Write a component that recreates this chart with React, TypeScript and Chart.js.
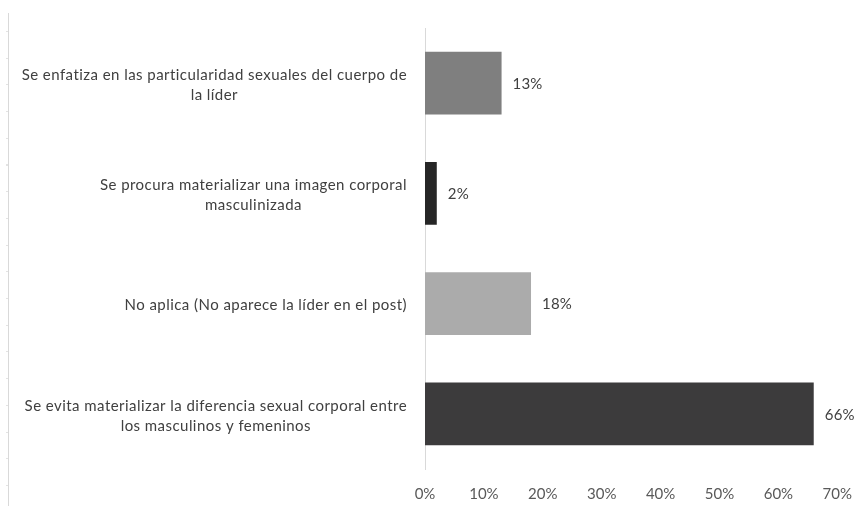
import React, { useEffect, useRef } from "react";
import { Chart, registerables } from "chart.js";

Chart.register(...registerables);

const categories: string[][] = [
  ["Se enfatiza en las particularidad sexuales del cuerpo de", "la líder"],
  ["Se procura materializar una imagen corporal", "masculinizada"],
  ["No aplica (No aparece la líder en el post)"],
  ["Se evita materializar la diferencia sexual corporal entre", "los masculinos y femeninos"],
];
const values: number[] = [13, 2, 18, 66];
const barColors: string[] = ["#7f7f7f", "#262626", "#ababab", "#3c3b3c"];
const xTicks: number[] = [0, 10, 20, 30, 40, 50, 60, 70];

const FONT = "Lato, 'Open Sans', sans-serif";
const TEXT = "#404040";

const valueLabels = {
  id: "valueLabels",
  afterDatasetsDraw(chart: any) {
    const ctx = chart.ctx;
    const meta = chart.getDatasetMeta(0);
    ctx.save();
    ctx.font = `15px ${FONT}`;
    (ctx as any).letterSpacing = "0.2px";
    ctx.fillStyle = TEXT;
    ctx.textAlign = "left";
    ctx.textBaseline = "middle";
    meta.data.forEach((bar: any, i: number) => {
      ctx.fillText(values[i] + "%", bar.x + 11, bar.y + 1);
    });
    ctx.restore();
  },
};

const categoryLabels = {
  id: "categoryLabels",
  afterDraw(chart: any) {
    const ctx = chart.ctx;
    const yScale = chart.scales.y;
    const rightEdge = chart.chartArea.left - 18;
    const lineH = 20;
    ctx.save();
    ctx.font = `15px ${FONT}`;
    (ctx as any).letterSpacing = "0.45px";
    ctx.fillStyle = TEXT;
    ctx.textAlign = "left";
    ctx.textBaseline = "middle";
    categories.forEach((lines, i) => {
      const cy = yScale.getPixelForValue(i);
      const widths = lines.map((l) => ctx.measureText(l).width);
      const maxW = Math.max(...widths);
      const cx = rightEdge - maxW / 2;
      const startY = cy - ((lines.length - 1) * lineH) / 2 + 2;
      lines.forEach((l, j) => ctx.fillText(l, cx - widths[j] / 2, startY + j * lineH));
    });
    ctx.restore();
  },
};

export default function App() {
  const ref = useRef<HTMLCanvasElement | null>(null);
  useEffect(() => {
    if (!ref.current) return;
    const chart = new Chart(ref.current, {
      type: "bar",
      data: {
        labels: categories.map((c) => c.join(" ")),
        datasets: [
          {
            data: values,
            backgroundColor: barColors,
            borderWidth: 0,
            barPercentage: 0.57,
            categoryPercentage: 1,
          },
        ],
      },
      options: {
        indexAxis: "y",
        animation: false,
        responsive: true,
        maintainAspectRatio: false,
        layout: { padding: { left: 425, top: 28, right: 26, bottom: 0 } },
        plugins: { legend: { display: false }, tooltip: { enabled: false } },
        scales: {
          x: {
            min: 0,
            max: 70,
            afterBuildTicks: (s: any) => {
              s.ticks = xTicks.map((v) => ({ value: v }));
            },
            afterFit: (s: any) => {
              s.height = 37;
            },
            grid: { display: false, drawTicks: false },
            border: { display: false },
            ticks: {
              padding: 16,
              color: "#595959",
              font: { family: FONT, size: 15 },
              callback: (v: any) => v + "%",
            },
          },
          y: {
            afterFit: (s: any) => {
              s.width = 0;
            },
            grid: { display: false, drawTicks: false },
            border: { display: true, color: "#d9d9d9", width: 1 },
            ticks: { display: false },
          },
        },
      },
      plugins: [valueLabels, categoryLabels],
    });
    return () => chart.destroy();
  }, []);

  return (
    <div style={{ position: "fixed", left: 0, top: 0, width: 868, height: 506, background: "#fff" }}>
      <div
        style={{
          position: "absolute",
          left: 8,
          top: 13,
          width: 0,
          height: 493,
          borderLeft: "1px solid #d9d9d9",
        }}
      />
      <div
        style={{
          position: "absolute",
          left: 6,
          top: 31,
          width: 2,
          height: 475,
          backgroundImage:
            "repeating-linear-gradient(to bottom, #e3e3e3 0px, #e3e3e3 1px, transparent 1px, transparent 26.7px)",
        }}
      />
      <div style={{ position: "absolute", left: 0, top: 0, width: 868, height: 506 }}>
        <canvas ref={ref} />
      </div>
    </div>
  );
}
